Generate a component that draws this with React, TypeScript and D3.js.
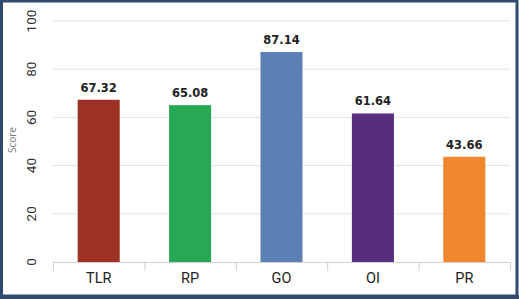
import React from 'react';
import * as d3 from 'd3';

const categories = ['TLR', 'RP', 'GO', 'OI', 'PR'];
const scores = [67.32, 65.08, 87.14, 61.64, 43.66];
const barColors = ['#9c3124', '#27a852', '#5d80b6', '#572e7b', '#f0862d'];
const yTicks = [0, 20, 40, 60, 80, 100];

const W = 519;
const H = 299;
const margin = { left: 53, right: 9, top: 21, bottom: 37 };

export default function App() {
    const x = d3.scaleBand<string>()
        .domain(categories)
        .range([margin.left, W - margin.right])
        .paddingInner(0.54)
        .paddingOuter(0.27);
    const y = d3.scaleLinear().domain([0, 100]).range([H - margin.bottom, margin.top]);
    const step = x.step();
    const x0 = margin.left;
    const x1 = W - margin.right;
    const base = y(0);

    return (
        <div style={{ position: 'fixed', left: 0, top: 0 }}>
            <svg width={W} height={H} style={{ display: 'block' }}>
                <rect x={0} y={0} width={W} height={H} fill="#fff" />
                {/* gridlines */}
                {yTicks.filter(t => t > 0).map(t => (
                    <line key={t} x1={x0} x2={x1} y1={y(t)} y2={y(t)} stroke="#e3e3e3" strokeWidth={1} />
                ))}
                {/* y tick labels */}
                {yTicks.map(t => (
                    <text key={t} transform={`translate(31,${y(t)}) rotate(-90)`} textAnchor="middle" dy="0.35em"
                        fontFamily="Roboto, sans-serif" fontSize={13.5} fill="#333">{t}</text>
                ))}
                <text transform={`translate(12,${140}) rotate(-90)`} textAnchor="middle" dy="0.35em"
                    fontFamily="'Open Sans', sans-serif" fontSize={10} fill="#777">Score</text>
                {/* bars */}
                {categories.map((c, i) => (
                    <g key={c}>
                        <rect x={x(c)} y={y(scores[i])} width={x.bandwidth()} height={base - y(scores[i])} fill={barColors[i]} />
                        <text x={(x(c) as number) + x.bandwidth() / 2} y={y(scores[i]) - 8} textAnchor="middle"
                            fontFamily="'DejaVu Sans', sans-serif" fontWeight="bold" fontSize={11.5} fill="#222">
                            {scores[i].toFixed(2)}
                        </text>
                        <text x={(x(c) as number) + x.bandwidth() / 2} y={base + 21} textAnchor="middle"
                            fontFamily="Roboto, sans-serif" fontSize={14.5} fill="#222">{c}</text>
                    </g>
                ))}
                {/* x axis */}
                <line x1={x0} x2={x1} y1={base + 0.5} y2={base + 0.5} stroke="#d0d0d0" />
                {d3.range(categories.length + 1).map(k => (
                    <line key={k} x1={x0 + k * step + 0.5} x2={x0 + k * step + 0.5} y1={base} y2={base + 9} stroke="#d0d0d0" />
                ))}
                {/* frame */}
                <rect x={1.5} y={1} width={W - 3.5} height={H - 4} fill="none" stroke="#2f4a6e" strokeWidth={3} />
                <line x1={0} x2={W} y1={H - 2} y2={H - 2} stroke="#2f4a6e" strokeWidth={4} />
            </svg>
        </div>
    );
}
